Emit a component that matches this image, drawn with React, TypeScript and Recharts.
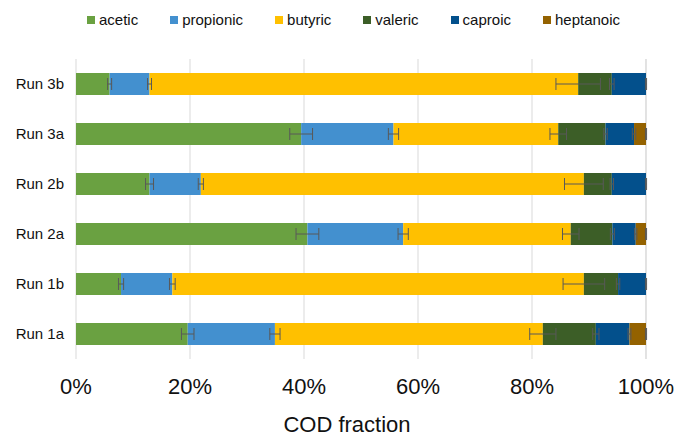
import { Bar, BarChart, CartesianGrid, ErrorBar, Legend, XAxis, YAxis } from "recharts";

const runs = ["Run 3b", "Run 3a", "Run 2b", "Run 2a", "Run 1b", "Run 1a"];

// COD fraction per acid (%), one entry per run
const acetic = [5.9, 39.5, 12.9, 40.6, 7.9, 19.6];
const propionic = [7.0, 16.2, 9.0, 16.8, 9.0, 15.3];
const butyric = [75.2, 28.9, 67.2, 29.4, 72.2, 47.0];
const valeric = [5.9, 8.3, 4.9, 7.3, 6.0, 9.3];
const caproic = [6.0, 5.0, 6.0, 4.1, 4.9, 5.9];
const heptanoic = [0, 2.1, 0, 1.8, 0, 2.9];

// standard deviations (%)
const aceticErr = [0.35, 2.0, 0.7, 2.0, 0.45, 1.1];
const propionicErr = [0.35, 0.9, 0.45, 0.9, 0.5, 0.9];
const butyricErr = [3.9, 1.45, 3.4, 1.45, 3.65, 2.3];
const valericErr = [0.4, 0.3, 0.3, 0.35, 0.3, 0.55];
const caproicErr = [0.1, 0.3, 0.1, 0.2, 0.1, 0.25];
const heptanoicErr = [0.05, 0.1, 0.05, 0.1, 0.05, 0.1];

const xTicks = [0, 20, 40, 60, 80, 100];

const series = [
    { key: "acetic", values: acetic, err: aceticErr, color: "#6AA141" },
    { key: "propionic", values: propionic, err: propionicErr, color: "#4390CF" },
    { key: "butyric", values: butyric, err: butyricErr, color: "#FFC000" },
    { key: "valeric", values: valeric, err: valericErr, color: "#3C5E27" },
    { key: "caproic", values: caproic, err: caproicErr, color: "#03508C" },
    { key: "heptanoic", values: heptanoic, err: heptanoicErr, color: "#946200" },
];

const data = runs.map((run, i) => {
    const row: Record<string, string | number> = { run };
    series.forEach((s) => {
        row[s.key] = s.values[i];
        row[s.key + "Err"] = s.err[i];
    });
    return row;
});

const FONT = "'Liberation Sans', Arial, sans-serif";

// legend keeps the stacking order instead of the alphabetical default
const LegendRow = () => (
    <div style={{ display: "flex", alignItems: "center", paddingLeft: 87, fontFamily: FONT, fontSize: 15, color: "#111" }}>
        {series.map((s) => (
            <div key={s.key} style={{ display: "flex", alignItems: "center", marginRight: 32 }}>
                <span style={{ width: 8, height: 8, background: s.color, marginRight: 4, display: "inline-block" }} />
                <span>{s.key}</span>
            </div>
        ))}
    </div>
);

export default function App() {
    return (
        <div style={{ position: "absolute", left: 0, top: 0, width: 676, height: 437, background: "#fff", fontFamily: FONT }}>
            <BarChart
                width={676}
                height={437}
                data={data}
                layout="vertical"
                margin={{ top: 42, right: 30, bottom: 0, left: 0 }}
            >
                <CartesianGrid horizontal={false} stroke="#d9d9d9" />
                <Legend
                    verticalAlign="top"
                    content={<LegendRow />}
                    wrapperStyle={{ top: 11, left: 0, width: 676 }}
                />
                <XAxis
                    type="number"
                    domain={[0, 100]}
                    ticks={xTicks}
                    tickFormatter={(v) => `${v}%`}
                    axisLine={false}
                    tickLine={false}
                    tickMargin={13}
                    height={78}
                    tick={{ fontSize: 22, fill: "#111", fontFamily: FONT }}
                    label={{ value: "COD fraction", position: "insideBottom", offset: 5, dx: -14, fontSize: 22, fill: "#111", fontFamily: FONT }}
                />
                <YAxis
                    type="category"
                    dataKey="run"
                    width={76}
                    axisLine={false}
                    tickLine={false}
                    tickMargin={6}
                    tick={{ fontSize: 15, fill: "#111", fontFamily: FONT }}
                />
                {series.map((s) => (
                    <Bar key={s.key} dataKey={s.key} name={s.key} stackId="cod" fill={s.color} barSize={22} isAnimationActive={false}>
                        <ErrorBar dataKey={s.key + "Err"} direction="x" width={6} stroke="#595959" strokeWidth={1} />
                    </Bar>
                ))}
            </BarChart>
        </div>
    );
}
